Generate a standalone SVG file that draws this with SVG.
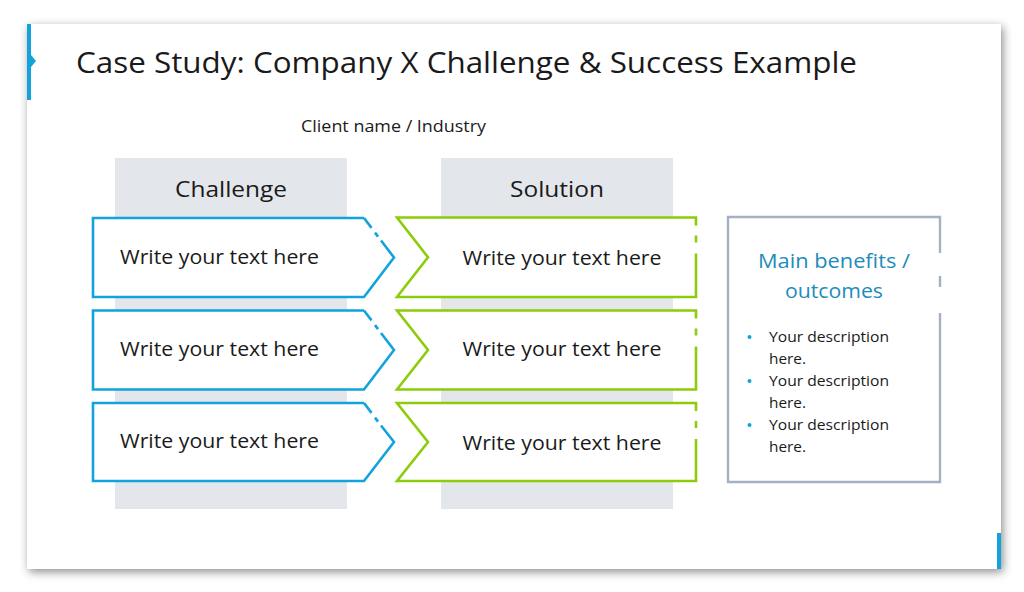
<svg xmlns="http://www.w3.org/2000/svg" width="1024" height="592" viewBox="0 0 1024 592">
<style>
.t{font-family:"Open Sans","Liberation Sans",sans-serif;fill:#1a1a1a}
.col{fill:#e3e6ea}
.ch{fill:#fff;stroke:#12a3dd;stroke-width:2.6;stroke-linejoin:miter}
.chl{fill:none;stroke:#12a3dd;stroke-width:2.6}
.so{fill:#fff;stroke:#8ccc0a;stroke-width:2.6}
.sol{fill:none;stroke:#8ccc0a;stroke-width:2.6}
.box{font-size:20px}
.b{font-size:15px}
</style>
<defs>
<filter id="sh" x="-5%" y="-5%" width="110%" height="115%">
<feDropShadow dx="2" dy="3" stdDeviation="5" flood-color="#000" flood-opacity="0.45"/>
</filter>
</defs>
<rect width="1024" height="592" fill="#fff"/>
<g id="slide">
<rect x="27" y="24" width="974" height="545" fill="#fff" filter="url(#sh)"/>
<rect x="27" y="24" width="4" height="76" fill="#12a3dd"/>
<polygon points="31,55 36,61 31,67" fill="#12a3dd"/>
<rect x="997" y="533" width="4" height="36" fill="#12a3dd"/>
</g>
<g id="title">
<text class="t" x="76" y="73" font-size="29" fill="#262626" textLength="781" lengthAdjust="spacingAndGlyphs">Case Study: Company X Challenge &amp; Success Example</text>
</g>
<g id="client">
<text class="t" x="301" y="132" font-size="16" textLength="185" lengthAdjust="spacingAndGlyphs">Client name / Industry</text>
</g>
<g id="challenge-col">
<rect class="col" x="115" y="158" width="232" height="351"/>
<text class="t" x="231" y="197" font-size="22" text-anchor="middle" textLength="112" lengthAdjust="spacingAndGlyphs">Challenge</text>
</g>
<g id="solution-col">
<rect class="col" x="441" y="158" width="232" height="351"/>
<text class="t" x="557" y="197" font-size="22" text-anchor="middle" textLength="94" lengthAdjust="spacingAndGlyphs">Solution</text>
</g>
<g id="connectors"/>
<g id="challenge1" transform="translate(0,218)">
<path class="ch" d="M364,0 L93,0 L93,79 L364,79 L394,39.5 L381,22.5"/>
<path class="chl" d="M378,18.6 L375,14.6 M371.5,9.9 L364,0"/>
<text class="t box" x="120" y="46" textLength="199" lengthAdjust="spacingAndGlyphs">Write your text here</text>
</g>
<g id="challenge2" transform="translate(0,310.5)">
<path class="ch" d="M364,0 L93,0 L93,79 L364,79 L394,39.5 L381,22.5"/>
<path class="chl" d="M378,18.6 L375,14.6 M371.5,9.9 L364,0"/>
<text class="t box" x="120" y="45" textLength="199" lengthAdjust="spacingAndGlyphs">Write your text here</text>
</g>
<g id="challenge3" transform="translate(0,403)">
<path class="ch" d="M364,0 L93,0 L93,78 L364,78 L394,39 L381,22.5"/>
<path class="chl" d="M378,18.6 L375,14.6 M371.5,9.9 L364,0"/>
<text class="t box" x="120" y="45" textLength="199" lengthAdjust="spacingAndGlyphs">Write your text here</text>
</g>
<g id="solution1" transform="translate(0,217.5)">
<path class="so" d="M696,36 L696,79.5 L397,79.5 L428,39.75 L397,0 L696,0 L696,8"/>
<path class="sol" d="M696,18 L696,25"/>
<text class="t box" x="562" y="47" text-anchor="middle" textLength="199" lengthAdjust="spacingAndGlyphs">Write your text here</text>
</g>
<g id="solution2" transform="translate(0,310.5)">
<path class="so" d="M696,36 L696,79 L397,79 L428,39.5 L397,0 L696,0 L696,8"/>
<path class="sol" d="M696,18 L696,25"/>
<text class="t box" x="562" y="45" text-anchor="middle" textLength="199" lengthAdjust="spacingAndGlyphs">Write your text here</text>
</g>
<g id="solution3" transform="translate(0,403)">
<path class="so" d="M696,36 L696,78 L397,78 L428,39 L397,0 L696,0 L696,8"/>
<path class="sol" d="M696,18 L696,25"/>
<text class="t box" x="562" y="47" text-anchor="middle" textLength="199" lengthAdjust="spacingAndGlyphs">Write your text here</text>
</g>
<g id="benefits">
<path d="M940,253 L940,217 L728,217 L728,482 L940,482 L940,313" fill="#fff" stroke="#a3b1c2" stroke-width="2.4"/>
<path d="M940,276 L940,287" fill="none" stroke="#a3b1c2" stroke-width="2.4"/>
<text class="t" x="834" y="268" font-size="20" fill="#1d8cba" style="fill:#1d8cba" text-anchor="middle" textLength="152" lengthAdjust="spacingAndGlyphs">Main benefits /</text>
<text class="t" x="834" y="298" font-size="20" style="fill:#1d8cba" text-anchor="middle" textLength="98" lengthAdjust="spacingAndGlyphs">outcomes</text>
<circle cx="749.5" cy="337" r="2" fill="#12a3dd"/>
<circle cx="749.5" cy="381" r="2" fill="#12a3dd"/>
<circle cx="749.5" cy="425" r="2" fill="#12a3dd"/>
<text class="t b" x="769" y="342" textLength="120" lengthAdjust="spacingAndGlyphs">Your description</text>
<text class="t b" x="769" y="364" textLength="37" lengthAdjust="spacingAndGlyphs">here.</text>
<text class="t b" x="769" y="386" textLength="120" lengthAdjust="spacingAndGlyphs">Your description</text>
<text class="t b" x="769" y="408" textLength="37" lengthAdjust="spacingAndGlyphs">here.</text>
<text class="t b" x="769" y="430" textLength="120" lengthAdjust="spacingAndGlyphs">Your description</text>
<text class="t b" x="769" y="452" textLength="37" lengthAdjust="spacingAndGlyphs">here.</text>
</g>
</svg>
